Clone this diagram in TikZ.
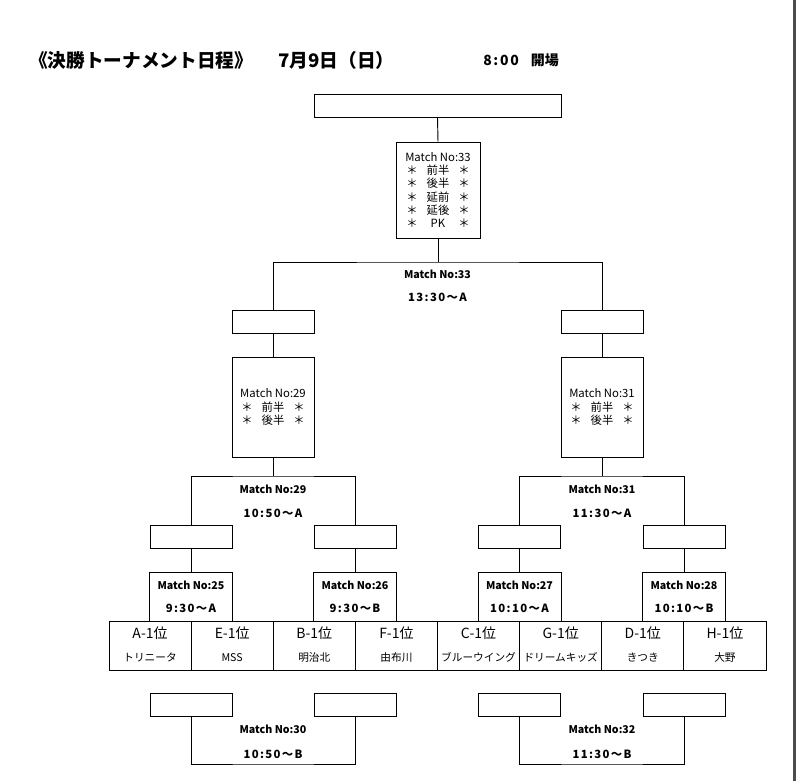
\documentclass[tikz,border=0pt]{standalone}
\usepackage{fontspec}
\setmainfont{Noto Sans CJK JP}
\newfontfamily\spacedfont{Noto Sans CJK JP}[LetterSpace=12]
\newcommand{\starline}[1]{\makebox[8pt]{＊}\makebox[31pt]{#1}\makebox[8pt]{＊}}
\tikzset{
  ln/.style={line width=0.7pt},
  wbox/.style={draw, line width=0.7pt, minimum width=61.5pt, minimum height=17.25pt, inner sep=0pt},
  topbox/.style={draw, line width=0.7pt, minimum width=185.25pt, minimum height=17.25pt, inner sep=0pt},
  bigmatch/.style={draw, line width=0.7pt, minimum width=63pt, minimum height=72pt, inner sep=0pt, align=center, font=\fontsize{8.5}{10}\selectfont},
  midmatch/.style={draw, line width=0.7pt, minimum width=61.5pt, minimum height=75pt, inner sep=0pt, align=center, font=\fontsize{8.5}{10}\selectfont},
  firstmatch/.style={draw, line width=0.7pt, minimum width=62.25pt, minimum height=36.75pt, inner sep=0pt},
  cell/.style={draw, line width=0.7pt, minimum width=61.6pt, minimum height=36.75pt, inner sep=0pt},
  lab/.style={inner sep=0pt, font=\bfseries\fontsize{8}{9.6}\selectfont},
  tlab/.style={inner sep=0pt, font=\spacedfont\bfseries\fontsize{8.5}{10}\selectfont},
  team/.style={inner sep=0pt, font=\fontsize{10.5}{12}\selectfont},
  tname/.style={inner sep=0pt, font=\fontsize{8}{9.6}\selectfont},
}
\begin{document}
\begin{tikzpicture}[x=0.75pt,y=-0.75pt]
\useasboundingbox (0,0) rectangle (796,781);
\fill[white] (0,0) rectangle (796,781);
\fill[black!70] (793,0) rectangle (796,781);

% titles
\node[anchor=west, inner sep=0pt, font=\bfseries\fontsize{14}{16}\selectfont] (title) at (29,60) {《決勝トーナメント日程》};
\node[anchor=west, inner sep=0pt, font=\bfseries\fontsize{14}{16}\selectfont] (date) at (278,60) {7月9日（日）};
\node[anchor=west, inner sep=0pt, font=\bfseries\fontsize{10.5}{12}\selectfont] (open) at (483,60) {{\spacedfont 8:00}\hspace{9pt}開場};

% final
\node[topbox] (top) at (437.5,105.5) {};
\node[bigmatch] (m33) at (438,190) {Match No:33\\\starline{前半}\\\starline{後半}\\\starline{延前}\\\starline{延後}\\\starline{PK}};
\draw[ln] (top.south) -- (m33.north);

% semi finals
\node[wbox] (L1) at (273,321.5) {};
\node[wbox] (R1) at (602,321.5) {};
\coordinate (j33) at (438,262);
\draw[ln] (m33.south) -- (j33);
\draw[ln] (L1.north) |- (j33) -| (R1.north);
\node[lab] (l33a) at (437.5,274) {Match No:33};
\node[tlab] (l33b) at (437.5,297) {13:30～A};

\node[midmatch] (m29) at (273,407) {Match No:29\\\starline{前半}\\\starline{後半}};
\node[midmatch] (m31) at (602,407) {Match No:31\\\starline{前半}\\\starline{後半}};
\draw[ln] (L1.south) -- (m29.north);
\draw[ln] (R1.south) -- (m31.north);

% quarter winners boxes
\node[wbox] (q1) at (191,537) {};
\node[wbox] (q2) at (355,537) {};
\node[wbox] (q3) at (519.5,537) {};
\node[wbox] (q4) at (684,537) {};
\coordinate (j29) at (273,476);
\coordinate (j31) at (602,476);
\draw[ln] (m29.south) -- (j29);
\draw[ln] (q1.north) |- (j29) -| (q2.north);
\draw[ln] (m31.south) -- (j31);
\draw[ln] (q3.north) |- (j31) -| (q4.north);
\node[lab] (l29a) at (273,489) {Match No:29};
\node[tlab] (l29b) at (273,513) {10:50～A};
\node[lab] (l31a) at (602,489) {Match No:31};
\node[tlab] (l31b) at (602,513) {11:30～A};

% first round match boxes
\node[firstmatch] (m25) at (191,596.5) {};
\node[firstmatch] (m26) at (355,596.5) {};
\node[firstmatch] (m27) at (519.5,596.5) {};
\node[firstmatch] (m28) at (684,596.5) {};
\draw[ln] (q1.south) -- (m25.north);
\draw[ln] (q2.south) -- (m26.north);
\draw[ln] (q3.south) -- (m27.north);
\draw[ln] (q4.south) -- (m28.north);
\node[lab] (l25a) at (191,585) {Match No:25};
\node[tlab] (l25b) at (191,608) {9:30～A};
\node[lab] (l26a) at (355,585) {Match No:26};
\node[tlab] (l26b) at (355,608) {9:30～B};
\node[lab] (l27a) at (519.5,585) {Match No:27};
\node[tlab] (l27b) at (519.5,608) {10:10～A};
\node[lab] (l28a) at (684,585) {Match No:28};
\node[tlab] (l28b) at (684,608) {10:10～B};

% teams
\foreach \i/\rk/\nm in {0/A-1位/トリニータ, 1/E-1位/MSS, 2/B-1位/明治北, 3/F-1位/由布川, 4/C-1位/ブルーウイング, 5/G-1位/ドリームキッズ, 6/D-1位/きつき, 7/H-1位/大野}{
  \node[cell] (c\i) at ({109+82.125*(\i+0.5)},645.5) {};
  \node[team] (r\i) at ({109+82.125*(\i+0.5)},633) {\rk};
  \node[tname] (n\i) at ({109+82.125*(\i+0.5)},657.5) {\nm};
}

% lower brackets
\node[wbox] (b1) at (191,705) {};
\node[wbox] (b2) at (355,705) {};
\node[wbox] (b3) at (519.5,705) {};
\node[wbox] (b4) at (684,705) {};
\coordinate (j30) at (273,764);
\coordinate (j32) at (602,764);
\draw[ln] (b1.south) |- (j30) -| (b2.south);
\draw[ln] (b3.south) |- (j32) -| (b4.south);
\node[lab] (l30a) at (273,729) {Match No:30};
\node[tlab] (l30b) at (273,754) {10:50～B};
\node[lab] (l32a) at (602,729) {Match No:32};
\node[tlab] (l32b) at (602,754) {11:30～B};
\end{tikzpicture}
\end{document}
